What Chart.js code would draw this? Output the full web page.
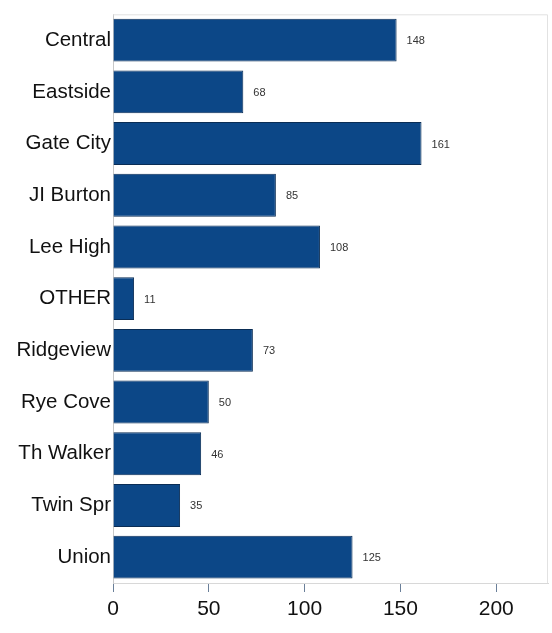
<!DOCTYPE html>
<html>
<head>
<meta charset="utf-8">
<script src="https://cdn.jsdelivr.net/npm/chart.js@4"></script>
<style>
  html, body { margin: 0; padding: 0; background: #fff; }
  #wrap { width: 552px; height: 633px; position: relative; }
</style>
</head>
<body>
<div id="wrap"><canvas id="grafico"></canvas></div>
<script>
// data
const schools = ['Central', 'Eastside', 'Gate City', 'JI Burton', 'Lee High', 'OTHER',
  'Ridgeview', 'Rye Cove', 'Th Walker', 'Twin Spr', 'Union'];
const counts = [148, 68, 161, 85, 108, 11, 73, 50, 46, 35, 125];
const xTicks = [0, 50, 100, 150, 200];

// value labels next to the bar ends
const valueLabels = {
  id: 'valueLabels',
  afterDatasetsDraw(chart) {
    const ctx = chart.ctx;
    const meta = chart.getDatasetMeta(0);
    ctx.save();
    ctx.font = '11px "Liberation Sans", Arial, sans-serif';
    ctx.fillStyle = '#333';
    ctx.textBaseline = 'middle';
    meta.data.forEach((bar, i) => {
      ctx.fillText(String(counts[i]), bar.x + 10, bar.y + 1);
    });
    ctx.restore();
  }
};

// light frame round the plot area
const frame = {
  id: 'frame',
  beforeDatasetsDraw(chart) {
    const { ctx, chartArea: a } = chart;
    ctx.save();
    ctx.strokeStyle = '#e2e2e2';
    ctx.lineWidth = 1;
    ctx.beginPath();
    ctx.moveTo(a.left, a.top + 0.5);
    ctx.lineTo(a.right - 0.5, a.top + 0.5);
    ctx.lineTo(a.right - 0.5, a.bottom);
    ctx.stroke();
    ctx.restore();
  }
};

new Chart(document.getElementById('grafico'), {
  type: 'bar',
  data: {
    labels: schools,
    datasets: [{
      data: counts,
      backgroundColor: '#0c4787',
      borderColor: '#0a2d55',
      borderWidth: 1,
      categoryPercentage: 0.83,
      barPercentage: 1
    }]
  },
  options: {
    indexAxis: 'y',
    responsive: true,
    maintainAspectRatio: false,
    animation: false,
    layout: { padding: { top: 10, right: 4, left: 0, bottom: 0 } },
    plugins: { legend: { display: false }, tooltip: { enabled: false } },
    scales: {
      x: {
        min: 0,
        max: 227,
        afterBuildTicks(scale) {
          scale.ticks = xTicks.map(v => ({ value: v }));
        },
        afterFit(scale) { scale.height = 50; },
        grid: {
          drawOnChartArea: false,
          drawTicks: true,
          tickLength: 9,
          color: '#6a7f99'
        },
        border: { color: '#d8d8d8' },
        ticks: {
          color: '#111',
          padding: 5,
          font: { family: '"Liberation Sans", Arial, sans-serif', size: 21 }
        }
      },
      y: {
        afterFit(scale) { scale.width = 113; },
        grid: { display: false, drawTicks: false },
        border: { color: '#c8c8c8', dash: [3, 2] },
        ticks: {
          color: '#111',
          padding: 2,
          font: { family: '"Liberation Sans", Arial, sans-serif', size: 20.5 }
        }
      }
    }
  },
  plugins: [frame, valueLabels]
});
</script>
</body>
</html>
